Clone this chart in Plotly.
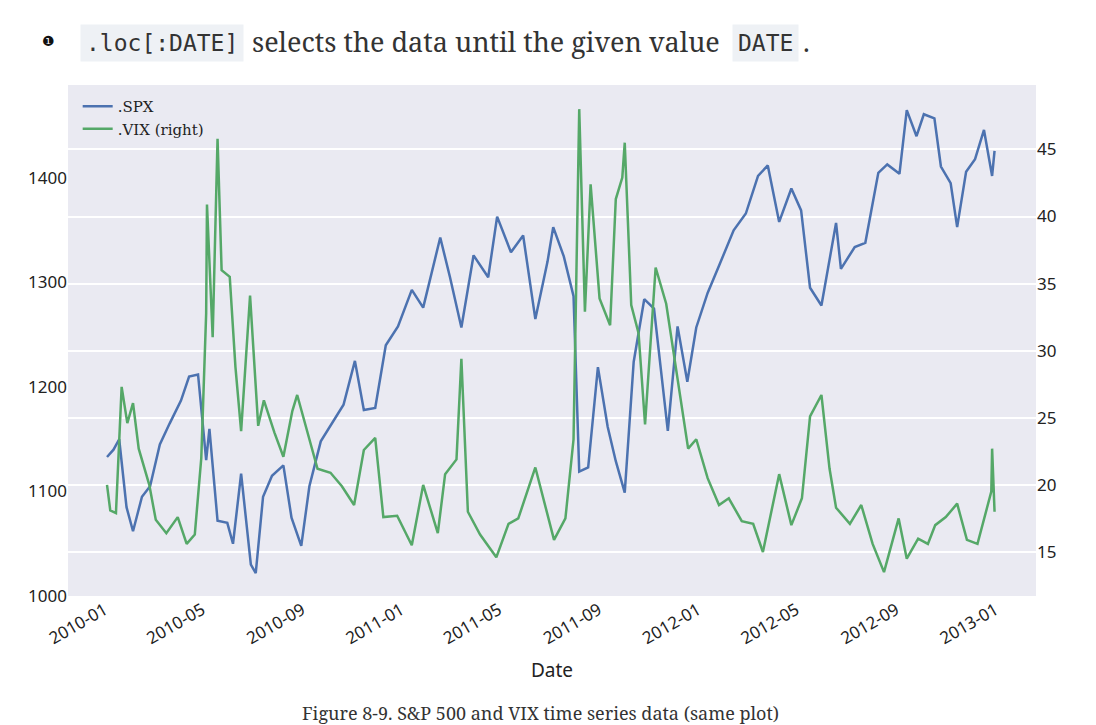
import plotly.graph_objects as go

spx_dates = ["2010-01-04","2010-01-12","2010-01-19","2010-01-28","2010-02-05","2010-02-16","2010-02-26","2010-03-10","2010-03-22","2010-04-05","2010-04-15","2010-04-26","2010-05-06","2010-05-10","2010-05-20","2010-06-01","2010-06-08","2010-06-18","2010-06-30","2010-07-06","2010-07-15","2010-07-26","2010-08-09","2010-08-19","2010-08-31","2010-09-10","2010-09-24","2010-10-08","2010-10-22","2010-11-05","2010-11-16","2010-11-30","2010-12-13","2010-12-28","2011-01-14","2011-01-28","2011-02-18","2011-03-02","2011-03-16","2011-03-31","2011-04-18","2011-04-29","2011-05-16","2011-05-31","2011-06-15","2011-06-30","2011-07-07","2011-07-20","2011-08-01","2011-08-08","2011-08-19","2011-08-31","2011-09-12","2011-09-22","2011-10-03","2011-10-14","2011-10-27","2011-11-08","2011-11-25","2011-12-07","2011-12-19","2011-12-30","2012-01-13","2012-01-27","2012-02-14","2012-02-29","2012-03-15","2012-03-27","2012-04-10","2012-04-25","2012-05-07","2012-05-18","2012-06-01","2012-06-19","2012-06-25","2012-07-12","2012-07-25","2012-08-10","2012-08-21","2012-09-05","2012-09-14","2012-09-26","2012-10-05","2012-10-18","2012-10-26","2012-11-07","2012-11-15","2012-11-26","2012-12-07","2012-12-18","2012-12-28","2012-12-31"]
spx_values = [1133,1140,1150,1085,1062,1095,1105,1145,1165,1187,1210,1212,1130,1160,1072,1070,1050,1117,1030,1022,1095,1115,1125,1075,1048,1105,1148,1165,1183,1225,1178,1180,1240,1258,1293,1276,1343,1305,1257,1326,1305,1363,1329,1345,1265,1320,1353,1325,1287,1119,1123,1219,1162,1129,1099,1224,1284,1275,1158,1258,1205,1257,1290,1316,1350,1366,1402,1412,1358,1390,1369,1295,1278,1357,1313,1334,1338,1405,1413,1404,1465,1440,1461,1457,1411,1395,1353,1406,1418,1446,1402,1426]

vix_dates = ["2010-01-04","2010-01-08","2010-01-15","2010-01-22","2010-01-29","2010-02-05","2010-02-12","2010-02-25","2010-03-05","2010-03-18","2010-04-01","2010-04-12","2010-04-22","2010-04-30","2010-05-06","2010-05-07","2010-05-14","2010-05-20","2010-05-25","2010-06-04","2010-06-11","2010-06-18","2010-06-29","2010-07-09","2010-07-16","2010-07-29","2010-08-09","2010-08-20","2010-08-26","2010-09-08","2010-09-20","2010-10-06","2010-10-20","2010-11-04","2010-11-16","2010-11-30","2010-12-10","2010-12-27","2011-01-14","2011-01-28","2011-02-15","2011-02-24","2011-03-10","2011-03-16","2011-03-24","2011-04-08","2011-04-28","2011-05-13","2011-05-25","2011-06-15","2011-06-27","2011-07-08","2011-07-22","2011-08-01","2011-08-08","2011-08-15","2011-08-22","2011-09-02","2011-09-15","2011-09-22","2011-09-30","2011-10-03","2011-10-11","2011-10-20","2011-10-28","2011-11-10","2011-11-23","2011-12-08","2011-12-20","2011-12-30","2012-01-13","2012-01-27","2012-02-08","2012-02-24","2012-03-09","2012-03-21","2012-04-10","2012-04-25","2012-05-08","2012-05-18","2012-06-01","2012-06-11","2012-06-19","2012-07-06","2012-07-20","2012-08-03","2012-08-17","2012-09-04","2012-09-14","2012-09-28","2012-10-10","2012-10-19","2012-11-01","2012-11-15","2012-11-27","2012-12-10","2012-12-20","2012-12-27","2012-12-28","2012-12-31"]
vix_values = [20,18.1,17.9,27.3,24.6,26.1,22.7,20,17.4,16.4,17.6,15.6,16.3,22,32.8,40.9,31,45.8,36,35.5,28.8,24,34.1,24.4,26.3,23.9,22.1,25.5,26.7,23.8,21.2,20.9,19.9,18.5,22.6,23.5,17.6,17.7,15.5,20,16.4,20.8,21.9,29.4,18,16.3,14.6,17.1,17.5,21.3,18.4,15.9,17.5,23.4,48,32.9,42.4,33.9,31.9,41.3,42.9,45.5,33.4,31.3,24.5,36.2,33.5,27.3,22.7,23.4,20.5,18.5,19,17.3,17.1,15,20.8,17,19,25.1,26.7,21.2,18.3,17.1,18.5,15.6,13.5,17.5,14.5,16,15.6,17,17.6,18.6,15.9,15.6,17.8,19.5,22.7,18]

left_ticks = [1000, 1100, 1200, 1300, 1400]
right_ticks = [15, 20, 25, 30, 35, 40, 45]
x_ticks = ["2010-01-01","2010-05-01","2010-09-01","2011-01-01","2011-05-01","2011-09-01","2012-01-01","2012-05-01","2012-09-01","2013-01-01"]
x_labels = ["2010-01","2010-05","2010-09","2011-01","2011-05","2011-09","2012-01","2012-05","2012-09","2013-01"]

fig = go.Figure()
fig.add_trace(go.Scatter(x=spx_dates, y=spx_values, name=".SPX", mode="lines",
                         line=dict(color="#4C72B0", width=2.5)))
fig.add_trace(go.Scatter(x=vix_dates, y=vix_values, name=".VIX (right)", mode="lines",
                         line=dict(color="#55A868", width=2.5), yaxis="y2"))

tickfont = dict(family="Noto Sans", size=17, color="#222")
fig.update_layout(
    width=1096, height=725,
    margin=dict(l=60, r=68, t=77, b=137),
    paper_bgcolor="white", plot_bgcolor="#EAEAF2",
    showlegend=True,
    legend=dict(x=0.01, y=0.99, bgcolor="rgba(0,0,0,0)", font=dict(family="DejaVu Serif", size=15, color="#222")),
    xaxis=dict(range=["2009-11-17", "2013-02-20"], tickvals=x_ticks, ticktext=x_labels,
               tickangle=-30, showgrid=False, zeroline=False, tickfont=tickfont,
               title=dict(text="Date", font=dict(family="Noto Sans", size=19, color="#222"))),
    yaxis=dict(range=[1000, 1489], tickvals=left_ticks, showgrid=False, zeroline=False, tickfont=tickfont),
    yaxis2=dict(range=[11.72, 49.8], tickvals=right_ticks, overlaying="y", side="right",
                showgrid=True, gridcolor="white", gridwidth=1.5, zeroline=False, tickfont=tickfont),
)

# pixel helpers for the header/caption text
def px(x):
    return (x - 60) / 971
def py(y):
    return (588 - y) / 511

serif = dict(family="Noto Serif, DejaVu Serif", size=27, color="#333")
mono = dict(family="DejaVu Sans Mono", size=23, color="#333")
fig.add_annotation(x=px(32), y=py(33), xref="paper", yref="paper", yanchor="middle", text="❶", showarrow=False,
                   font=dict(family="DejaVu Sans", size=14, color="#111"))
fig.add_annotation(x=px(72), y=py(35), xref="paper", yref="paper", xanchor="left", yanchor="middle",
                   text=".loc[:DATE]", showarrow=False, font=mono, bgcolor="#EEF1F5", borderpad=5)
fig.add_annotation(x=px(243), y=py(33), xref="paper", yref="paper", xanchor="left", yanchor="middle",
                   text="selects the data until the given value", showarrow=False, font=serif)
fig.add_annotation(x=px(726), y=py(35), xref="paper", yref="paper", xanchor="left", yanchor="middle",
                   text="DATE", showarrow=False, font=mono, bgcolor="#EEF1F5", borderpad=5)
fig.add_annotation(x=px(795), y=py(33), xref="paper", yref="paper", xanchor="left", yanchor="middle",
                   text=".", showarrow=False, font=serif)
fig.add_annotation(x=px(534), y=py(705), xref="paper", yref="paper", yanchor="middle",
                   text="Figure 8-9. S&P 500 and VIX time series data (same plot)", showarrow=False,
                   font=dict(family="Noto Serif, DejaVu Serif", size=18, color="#333"))

fig.write_html("out.html")
